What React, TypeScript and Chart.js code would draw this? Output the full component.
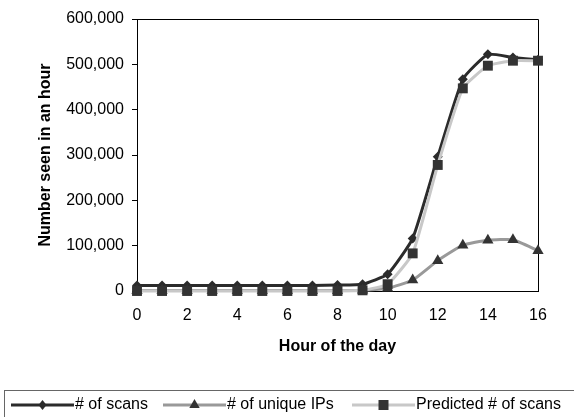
import React, { useEffect, useRef } from 'react';
import { Chart, registerables } from 'chart.js';

Chart.register(...registerables);

const hours = [0, 1, 2, 3, 4, 5, 6, 7, 8, 9, 10, 11, 12, 13, 14, 15, 16];
const scans = [12000, 12000, 12000, 12000, 12000, 12000, 12000, 12000, 13000, 15000, 37000, 116000, 296000, 467000, 522000, 515000, 510000];
const uniqueIPs = [1000, 1000, 1000, 1000, 1000, 1000, 1000, 1000, 1000, 1500, 6000, 24000, 67000, 101000, 112000, 113000, 89000];
const predicted = [0, 0, 0, 0, 0, 0, 0, 0, 0, 1500, 15000, 83000, 278000, 447000, 497000, 508000, 508000];
const seriesNames = ['# of scans', '# of unique IPs', 'Predicted # of scans'];
const xTitle = 'Hour of the day';
const yTitle = 'Number seen in an hour';

const FONT = "'Liberation Sans', Arial, sans-serif";

function drawMarker(ctx: CanvasRenderingContext2D, style: string, x: number, y: number, color: string) {
  ctx.save();
  ctx.fillStyle = color;
  ctx.beginPath();
  if (style === 'rectRot') {
    const r = 5;
    ctx.moveTo(x, y - r);
    ctx.lineTo(x + r * 0.8, y);
    ctx.lineTo(x, y + r);
    ctx.lineTo(x - r * 0.8, y);
  } else if (style === 'triangle') {
    const r = 6;
    ctx.moveTo(x, y - r);
    ctx.lineTo(x + r * 0.866, y + r * 0.5);
    ctx.lineTo(x - r * 0.866, y + r * 0.5);
  } else {
    const s = 5;
    ctx.rect(x - s, y - s, 2 * s, 2 * s);
  }
  ctx.closePath();
  ctx.fill();
  ctx.restore();
}

const framePlugin = {
  id: 'frame',
  beforeDatasetsDraw(chart: any) {
    const { ctx, chartArea } = chart;
    ctx.save();
    ctx.strokeStyle = '#000';
    ctx.lineWidth = 1;
    ctx.beginPath();
    ctx.moveTo(chartArea.left, chartArea.top + 0.5);
    ctx.lineTo(chartArea.right + 0.5, chartArea.top + 0.5);
    ctx.lineTo(chartArea.right + 0.5, chartArea.bottom);
    ctx.stroke();
    ctx.restore();
  },
};

const legendPlugin = {
  id: 'customLegend',
  afterDraw(chart: any) {
    const { ctx } = chart;
    const starts = [11, 163, 352];
    const lineLen = 63;
    const y = 405;
    ctx.save();
    ctx.strokeStyle = '#666';
    ctx.lineWidth = 1;
    ctx.strokeRect(4.5, 390.5, 600, 60);
    chart.data.datasets.forEach((ds: any, i: number) => {
      const x0 = starts[i];
      ctx.strokeStyle = ds.borderColor;
      ctx.lineWidth = 3;
      ctx.beginPath();
      ctx.moveTo(x0, y);
      ctx.lineTo(x0 + lineLen, y);
      ctx.stroke();
      drawMarker(ctx, ds.pointStyle, x0 + lineLen / 2, y, ds.pointBackgroundColor);
      ctx.fillStyle = '#000';
      ctx.font = `16px ${FONT}`;
      ctx.textAlign = 'left';
      ctx.textBaseline = 'middle';
      ctx.fillText(ds.label, x0 + lineLen + 1, y);
    });
    ctx.restore();
  },
};

export default function App() {
  const ref = useRef<HTMLCanvasElement | null>(null);
  useEffect(() => {
    if (!ref.current) return;
    const mk = (vals: number[]) => hours.map((h, i) => ({ x: h, y: vals[i] }));
    const chart = new Chart(ref.current, {
      type: 'line',
      data: {
        datasets: [
          {
            label: seriesNames[0],
            data: mk(scans),
            borderColor: '#2b2b2b',
            borderWidth: 3,
            pointStyle: 'rectRot',
            pointRadius: 5,
            pointBackgroundColor: '#2b2b2b',
            pointBorderColor: '#2b2b2b',
            pointBorderWidth: 0,
            tension: 0.15,
            clip: false,
            order: 2,
          },
          {
            label: seriesNames[1],
            data: mk(uniqueIPs),
            borderColor: '#999999',
            borderWidth: 3,
            pointStyle: 'triangle',
            pointRadius: 6.5,
            pointBackgroundColor: '#333333',
            pointBorderColor: '#333333',
            pointBorderWidth: 0,
            tension: 0.15,
            clip: false,
            order: 1,
          },
          {
            label: seriesNames[2],
            data: mk(predicted),
            borderColor: '#c8c8c8',
            borderWidth: 3,
            pointStyle: 'rect',
            pointRadius: 7,
            pointBackgroundColor: '#333333',
            pointBorderColor: '#333333',
            pointBorderWidth: 0,
            tension: 0.15,
            clip: false,
            order: 0,
          },
        ] as any,
      },
      options: {
        animation: false,
        responsive: false,
        maintainAspectRatio: false,
        layout: { padding: { left: 0, right: 36, top: 19, bottom: 57 } },
        plugins: { legend: { display: false }, tooltip: { enabled: false }, title: { display: false } },
        scales: {
          x: {
            type: 'linear',
            min: 0,
            max: 16,
            ticks: { stepSize: 2, padding: 15, color: '#000', font: { family: FONT, size: 16 } },
            grid: { display: true, drawOnChartArea: false, drawTicks: false },
            border: { display: true, color: '#000', width: 1 },
            title: {
              display: true,
              text: xTitle,
              color: '#000',
              font: { family: FONT, size: 16, weight: 'bold' },
              padding: { top: 0, bottom: 4 },
            },
            afterFit(scale: any) {
              scale.height = 69;
            },
          },
          y: {
            type: 'linear',
            min: 0,
            max: 600000,
            ticks: {
              stepSize: 100000,
              padding: 8,
              color: '#000',
              font: { family: FONT, size: 16 },
              callback: (v: any) => Number(v).toLocaleString('en-US'),
            },
            grid: { display: true, drawOnChartArea: false, drawTicks: true, tickLength: 5, tickColor: '#000' },
            border: { display: true, color: '#000', width: 1 },
            title: {
              display: true,
              text: yTitle,
              color: '#000',
              font: { family: FONT, size: 16, weight: 'bold' },
              padding: { top: 36, bottom: 0 },
            },
            afterFit(scale: any) {
              scale.width = 137;
            },
          },
        },
      } as any,
      plugins: [framePlugin, legendPlugin],
    });
    return () => chart.destroy();
  }, []);
  return (
    <div style={{ position: 'fixed', left: 0, top: 0, width: 574, height: 417, background: '#fff' }}>
      <canvas ref={ref} width={574} height={417} style={{ width: 574, height: 417, display: 'block' }} />
    </div>
  );
}
